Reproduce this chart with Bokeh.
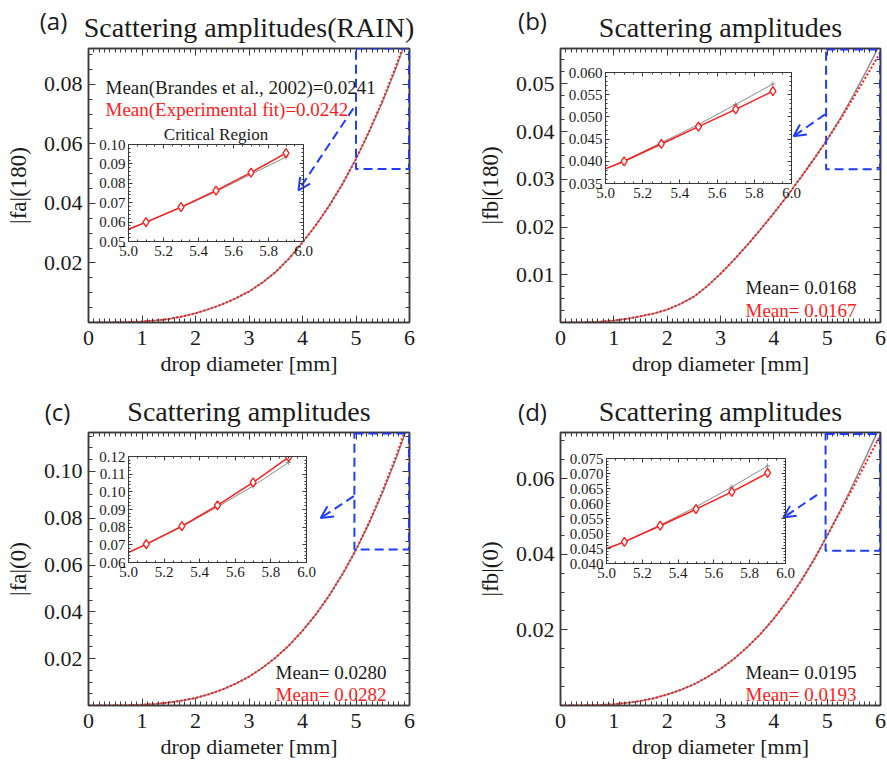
import numpy as np
from bokeh.plotting import figure
from bokeh.models import (Range1d, LinearAxis, FixedTicker, PrintfTickFormatter,
                          Label, BoxAnnotation, Arrow, OpenHead, GridBox)
from bokeh.core.properties import value
from bokeh.embed import file_html
from bokeh.resources import INLINE

# ---------------- data ----------------
diameter_mm = [0.0, 0.25, 0.5, 0.75, 1.0, 1.25, 1.5, 1.75, 2.0, 2.25, 2.5, 2.75,
               3.0, 3.25, 3.5, 3.75, 4.0, 4.25, 4.5, 4.75, 5.0, 5.25, 5.5, 5.75, 6.0]

fa180_brandes = [0.0, 0.000004, 0.00004, 0.00013, 0.00033, 0.00068, 0.0012, 0.0020, 0.0031,
                 0.0045, 0.0061, 0.0081, 0.0104, 0.0134, 0.0170, 0.0215, 0.0269, 0.0327,
                 0.0392, 0.0466, 0.0549, 0.0642, 0.0743, 0.0855, 0.0978]
fa180_fit = [0.0, 0.000004, 0.00004, 0.00013, 0.00033, 0.00068, 0.0012, 0.0020, 0.0031,
             0.0045, 0.0061, 0.0081, 0.0104, 0.0134, 0.0170, 0.0215, 0.0269, 0.0327,
             0.0392, 0.0466, 0.0549, 0.0644, 0.0747, 0.0862, 0.0988]

fb180_brandes = [0.0, 0.00001, 0.00004, 0.00017, 0.0004, 0.0008, 0.0013, 0.0019, 0.0027,
                 0.0039, 0.0054, 0.0076, 0.0102, 0.0131, 0.0162, 0.0195, 0.0229, 0.0265,
                 0.0303, 0.0342, 0.0383, 0.0428, 0.0478, 0.0530, 0.0585]
fb180_fit = [0.0, 0.00001, 0.00004, 0.00017, 0.0004, 0.0008, 0.0013, 0.0019, 0.0027,
             0.0039, 0.0054, 0.0076, 0.0102, 0.0131, 0.0162, 0.0195, 0.0229, 0.0265,
             0.0303, 0.0342, 0.0383, 0.0426, 0.0472, 0.0519, 0.0566]

fa0_brandes = [0.0, 0.000003, 0.00003, 0.00013, 0.00033, 0.00069, 0.00125, 0.0021, 0.0032,
               0.0048, 0.0068, 0.0093, 0.0123, 0.0161, 0.0205, 0.0257, 0.0319, 0.0389,
               0.0470, 0.0562, 0.0665, 0.0781, 0.0911, 0.1055, 0.1214]
fa0_fit = [0.0, 0.000003, 0.00003, 0.00013, 0.00033, 0.00069, 0.00125, 0.0021, 0.0032,
           0.0048, 0.0068, 0.0093, 0.0123, 0.0161, 0.0205, 0.0257, 0.0319, 0.0389,
           0.0470, 0.0562, 0.0665, 0.0784, 0.0918, 0.1065, 0.1228]

fb0_brandes = [0.0, 0.000006, 0.000045, 0.00015, 0.00036, 0.0007, 0.0012, 0.0019, 0.0029,
               0.0041, 0.0056, 0.0075, 0.0097, 0.0123, 0.0154, 0.0189, 0.0230, 0.0276,
               0.0327, 0.0385, 0.0449, 0.0517, 0.0589, 0.0664, 0.0742]
fb0_fit = [0.0, 0.000006, 0.000045, 0.00015, 0.00036, 0.0007, 0.0012, 0.0019, 0.0029,
           0.0041, 0.0056, 0.0075, 0.0097, 0.0123, 0.0154, 0.0189, 0.0230, 0.0276,
           0.0327, 0.0385, 0.0449, 0.0514, 0.0581, 0.0648, 0.0716]

inset_diameter = [5.0, 5.1, 5.3, 5.5, 5.7, 5.9]
inset_fa180_brandes = [0.0561, 0.0598, 0.0674, 0.0757, 0.0847, 0.0935]
inset_fa180_fit = [0.0563, 0.0600, 0.0677, 0.0762, 0.0855, 0.0956]
inset_fb180_brandes = [0.0383, 0.0401, 0.0442, 0.0483, 0.0528, 0.0574]
inset_fb180_fit = [0.0383, 0.0400, 0.0439, 0.0478, 0.0517, 0.0558]
inset_fa0_brandes = [0.0655, 0.0702, 0.0802, 0.0915, 0.1033, 0.1167]
inset_fa0_fit = [0.0657, 0.0704, 0.0806, 0.0923, 0.1053, 0.1196]
inset_fb0_brandes = [0.0449, 0.0473, 0.0528, 0.0589, 0.0655, 0.0725]
inset_fb0_fit = [0.0449, 0.0472, 0.0526, 0.0581, 0.0639, 0.0702]

x_ticks = [0, 1, 2, 3, 4, 5, 6]
inset_x_ticks = [5.0, 5.2, 5.4, 5.6, 5.8, 6.0]
y_ticks_fa180 = [0.02, 0.04, 0.06, 0.08]
y_ticks_fb180 = [0.01, 0.02, 0.03, 0.04, 0.05]
y_ticks_fa0 = [0.02, 0.04, 0.06, 0.08, 0.10]
y_ticks_fb0 = [0.02, 0.04, 0.06]
inset_y_ticks_fa180 = [0.05, 0.06, 0.07, 0.08, 0.09, 0.10]
inset_y_ticks_fb180 = [0.035, 0.040, 0.045, 0.050, 0.055, 0.060]
inset_y_ticks_fa0 = [0.06, 0.07, 0.08, 0.09, 0.10, 0.11, 0.12]
inset_y_ticks_fb0 = [0.040, 0.045, 0.050, 0.055, 0.060, 0.065, 0.070, 0.075]

titles = ["Scattering amplitudes(RAIN)", "Scattering amplitudes",
          "Scattering amplitudes", "Scattering amplitudes"]
tags = ["(a)", "(b)", "(c)", "(d)"]
y_labels = ["|fa|(180)", "|fb|(180)", "|fa|(0)", "|fb|(0)"]
mean_brandes = ["Mean(Brandes et al., 2002)=0.0241", "Mean= 0.0168", "Mean= 0.0280", "Mean= 0.0195"]
mean_fit = ["Mean(Experimental fit)=0.0242", "Mean= 0.0167", "Mean= 0.0282", "Mean= 0.0193"]
y_max = [0.092, 0.0574, 0.1166, 0.0722]
inset_y_range = [(0.05, 0.10), (0.035, 0.060), (0.06, 0.12), (0.040, 0.075)]
zoom_boxes = [(5.0, 5.99, 0.0515, 0.092), (4.98, 5.99, 0.0321, 0.0572),
              (4.97, 5.99, 0.0666, 0.1162), (4.97, 5.99, 0.0409, 0.0718)]
arrows = [(4.95, 0.0719, 3.925, 0.0444), (4.96, 0.0436, 4.37, 0.0390),
          (4.96, 0.0894, 4.34, 0.0801), (4.81, 0.0557, 4.18, 0.0497)]

# ---------------- layout (page pixels) ----------------
SERIF = "Liberation Serif"
SANS = "Open Sans"
AX = "#3a3a3a"
TXT = "#1a1a1a"
GREY = "#8a8a8a"
RED = "#ff1a1a"
BLUE = "#1f3dff"

main_boxes = [(0, 0, 443, 382), (443, 0, 444, 382), (0, 382, 443, 382), (443, 382, 444, 382)]
main_frames = [(88, 48, 409, 322), (560, 48, 880, 322), (88, 432, 409, 705), (560, 432, 880, 705)]
inset_frames = [(128, 144, 303, 241), (605, 72, 791, 183), (128, 456, 306, 562), (606, 458, 785, 563)]
inset_titles = ["Critical Region", "", "", ""]
tag_center = [(53, 20), (532, 20), (57, 411), (532, 411)]
mean_pos = [(105, 87, 109), (745, 287, 310), (275, 672, 694), (745, 672, 694)]

series = [(fa180_brandes, fa180_fit, inset_fa180_brandes, inset_fa180_fit, y_ticks_fa180, inset_y_ticks_fa180, 0.005, 0.002, "%.2f"),
          (fb180_brandes, fb180_fit, inset_fb180_brandes, inset_fb180_fit, y_ticks_fb180, inset_y_ticks_fb180, 0.0025, 0.001, "%.3f"),
          (fa0_brandes, fa0_fit, inset_fa0_brandes, inset_fa0_fit, y_ticks_fa0, inset_y_ticks_fa0, 0.005, 0.002, "%.2f"),
          (fb0_brandes, fb0_fit, inset_fb0_brandes, inset_fb0_fit, y_ticks_fb0, inset_y_ticks_fb0, 0.005, 0.001, "%.3f")]


def style_axis(ax, ticker, fmt, size, labels=True, tin=7, min_in=4, lw=1.5, standoff=6):
    ax.ticker = ticker
    ax.formatter = fmt
    ax.axis_line_color = AX
    ax.axis_line_width = lw
    ax.major_tick_line_color = AX
    ax.minor_tick_line_color = AX
    ax.major_tick_line_width = 1
    ax.minor_tick_line_width = 1
    ax.major_tick_in = tin
    ax.major_tick_out = 0
    ax.minor_tick_in = min_in
    ax.minor_tick_out = 0
    ax.major_label_text_font = SERIF
    ax.major_label_text_color = TXT
    if labels:
        ax.major_label_text_font_size = f"{size}px"
        ax.major_label_standoff = standoff
    else:
        ax.major_label_text_font_size = "0px"
        ax.major_label_standoff = 0


def px_to_data(frame, xr, yr, px, py):
    fl, ft, fr, fb = frame
    return (xr[0] + (px - fl) / (fr - fl) * (xr[1] - xr[0]),
            yr[1] - (py - ft) / (fb - ft) * (yr[1] - yr[0]))


placed = []
overlays = []
for i in range(4):
    (yb, yf, iyb, iyf, yt, iyt, yminor, iyminor, ifmt) = series[i]
    x0, y0, w, h = main_boxes[i]
    fl, ft, fr, fb = main_frames[i]
    xr = (0, 6)
    yr = (0, y_max[i])
    p = figure(width=w, height=h, x_range=Range1d(*xr), y_range=Range1d(*yr),
               output_backend="svg", toolbar_location=None,
               min_border_left=fl - x0, min_border_right=x0 + w - fr,
               min_border_top=ft - y0, min_border_bottom=y0 + h - fb)
    p.background_fill_color = "white"
    p.border_fill_color = "white"
    p.outline_line_color = AX
    p.outline_line_width = 1.5
    p.xgrid.visible = False
    p.ygrid.visible = False

    bottom = p.below[0]
    left = p.left[0]
    xt = FixedTicker(ticks=x_ticks, minor_ticks=list(np.round(np.arange(0, 6.0001, 0.1), 3)))
    ytk = FixedTicker(ticks=yt, minor_ticks=list(np.round(np.arange(0, y_max[i] + 1e-9, yminor), 5)))
    style_axis(bottom, xt, PrintfTickFormatter(format="%.0f"), 22, standoff=8)
    style_axis(left, ytk, PrintfTickFormatter(format="%.2f"), 22, standoff=6)
    top = LinearAxis()
    right = LinearAxis()
    p.add_layout(top, "above")
    p.add_layout(right, "right")
    style_axis(top, xt, PrintfTickFormatter(format="%.0f"), 0, labels=False)
    style_axis(right, ytk, PrintfTickFormatter(format="%.2f"), 0, labels=False)

    bottom.axis_label = "drop diameter [mm]"
    left.axis_label = y_labels[i]
    for ax, fs in ((bottom, "22px"), (left, "23px")):
        ax.axis_label_text_font = SERIF
        ax.axis_label_text_font_size = fs
        ax.axis_label_text_font_style = "normal"
        ax.axis_label_text_color = TXT
    bottom.axis_label_standoff = 3
    left.axis_label_standoff = 10

    p.title.text = titles[i]
    p.title.align = "center"
    p.title.text_font = SERIF
    p.title.text_font_size = "28px"
    p.title.text_font_style = "normal"
    p.title.text_color = TXT
    p.title.standoff = 12

    p.line(diameter_mm, yb, line_color=GREY, line_width=1.5)
    p.line(diameter_mm, yf, line_color=RED, line_width=2, line_dash="2 2")

    bx = zoom_boxes[i]
    p.add_layout(BoxAnnotation(left=bx[0], right=bx[1], bottom=bx[2], top=bx[3],
                               fill_alpha=0, line_color=BLUE, line_alpha=1.0,
                               line_width=2, line_dash="9 5"))
    a = arrows[i]
    p.add_layout(Arrow(x_start=a[0], y_start=a[1], x_end=a[2], y_end=a[3],
                       line_color=BLUE, line_width=2, line_dash="9 5",
                       end=OpenHead(size=12, line_color=BLUE, line_width=2)))

    mx, my1, my2 = mean_pos[i]
    lx, ly1 = px_to_data(main_frames[i], xr, yr, mx, my1)
    _, ly2 = px_to_data(main_frames[i], xr, yr, mx, my2)
    p.add_layout(Label(x=lx, y=ly1, text=mean_brandes[i], text_font=SERIF, text_font_size="19px",
                       text_color=TXT, text_baseline="alphabetic"))
    p.add_layout(Label(x=lx, y=ly2, text=mean_fit[i], text_font=SERIF, text_font_size="19px",
                       text_color=RED, text_baseline="alphabetic"))
    placed.append((p, x0, y0, w, h))

    # ---- panel tag "(a)" etc. as a small transparent overlay ----
    tw, th = 60, 34
    tx0, ty0 = tag_center[i][0] - tw // 2, tag_center[i][1] - th // 2
    tp = figure(width=tw, height=th, x_range=Range1d(0, tw), y_range=Range1d(0, th),
                output_backend="svg", toolbar_location=None, title=None,
                x_axis_location=None, y_axis_location=None, min_border=0)
    tp.outline_line_color = None
    tp.background_fill_alpha = 0
    tp.border_fill_alpha = 0
    tp.xgrid.visible = False
    tp.ygrid.visible = False
    tp.text(x=[tw / 2], y=[th / 2], text=[tags[i]], text_font=value(SANS), text_font_size="24px",
            text_color=TXT, text_baseline="middle", text_align="center")
    overlays.append((tp, tx0, ty0, tw, th))

    # ---- inset ----
    il, it_, ir, ib = inset_frames[i]
    top_pad = 26 if inset_titles[i] else 10
    ix0, iy0 = il - 40, it_ - top_pad
    iw, ih = ir + 12 - ix0, ib + 22 - iy0
    iyr = inset_y_range[i]
    ip = figure(width=iw, height=ih, x_range=Range1d(5.0, 6.0), y_range=Range1d(*iyr),
                output_backend="svg", toolbar_location=None,
                min_border_left=il - ix0, min_border_right=ix0 + iw - ir,
                min_border_top=it_ - iy0, min_border_bottom=iy0 + ih - ib)
    ip.background_fill_alpha = 0
    ip.border_fill_alpha = 0
    ip.outline_line_color = AX
    ip.outline_line_width = 1
    ip.xgrid.visible = False
    ip.ygrid.visible = False
    ib_ax = ip.below[0]
    il_ax = ip.left[0]
    ixt = FixedTicker(ticks=inset_x_ticks, minor_ticks=list(np.round(np.arange(5.0, 6.0001, 0.05), 3)))
    iyt_ = FixedTicker(ticks=iyt, minor_ticks=list(np.round(np.arange(iyr[0], iyr[1] + 1e-9, iyminor), 5)))
    style_axis(ib_ax, ixt, PrintfTickFormatter(format="%.1f"), 15, tin=4, min_in=2, lw=1, standoff=4)
    style_axis(il_ax, iyt_, PrintfTickFormatter(format=ifmt), 15, tin=4, min_in=2, lw=1, standoff=3)
    itop = LinearAxis()
    iright = LinearAxis()
    ip.add_layout(itop, "above")
    ip.add_layout(iright, "right")
    style_axis(itop, ixt, PrintfTickFormatter(format="%.1f"), 0, labels=False, tin=4, min_in=2, lw=1)
    style_axis(iright, iyt_, PrintfTickFormatter(format=ifmt), 0, labels=False, tin=4, min_in=2, lw=1)
    if inset_titles[i]:
        ip.title.text = inset_titles[i]
        ip.title.align = "center"
        ip.title.text_font = SERIF
        ip.title.text_font_size = "17px"
        ip.title.text_font_style = "normal"
        ip.title.text_color = TXT
        ip.title.standoff = 2
    ip.line(inset_diameter, iyb, line_color=GREY, line_width=1)
    ip.scatter(inset_diameter[1:], iyb[1:], marker="cross", size=5, line_color=GREY)
    ip.line(inset_diameter, iyf, line_color=RED, line_width=1.5)
    ip.scatter(inset_diameter[1:], iyf[1:], marker="diamond", size=9, line_color=RED,
               line_width=1.3, fill_color="white")
    overlays.append((ip, ix0, iy0, iw, ih))

placed += overlays
xs = sorted({v for (_, x0, y0, w, h) in placed for v in (x0, x0 + w)})
ys = sorted({v for (_, x0, y0, w, h) in placed for v in (y0, y0 + h)})
children = []
for (f, x0, y0, w, h) in placed:
    r, c = ys.index(y0), xs.index(x0)
    children.append((f, r, c, ys.index(y0 + h) - r, xs.index(x0 + w) - c))
grid = GridBox(children=children,
               rows=[f"{b - a}px" for a, b in zip(ys, ys[1:])],
               cols=[f"{b - a}px" for a, b in zip(xs, xs[1:])],
               spacing=0)

open("out.html", "w").write(file_html(grid, INLINE))
